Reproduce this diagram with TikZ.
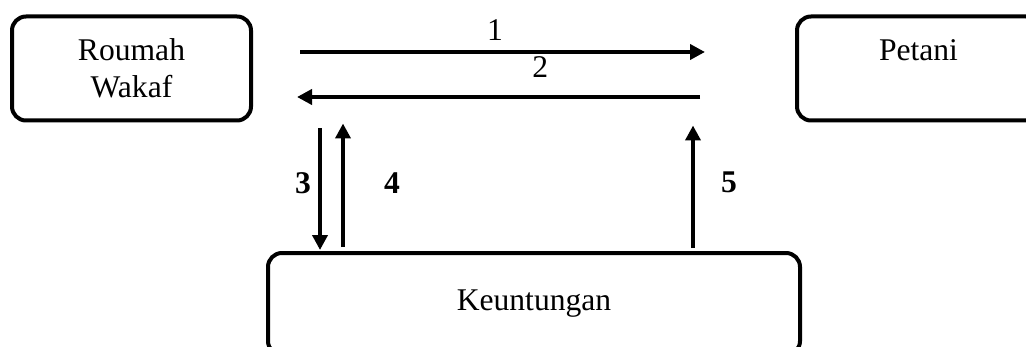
\documentclass[tikz,border=0pt]{standalone}
\usepackage{fontspec}
\setmainfont{Liberation Serif}
\usetikzlibrary{arrows.meta,calc}

\tikzset{
  box/.style={draw,line width=2pt,rounded corners=7pt,align=center,inner sep=0pt,outer sep=0pt,
    font=\fontsize{15.8}{18.5}\selectfont},
  flow/.style={line width=2pt,-{Triangle[length=7.5pt,width=7.5pt]}},
  lab/.style={font=\fontsize{15.8}{18.5}\selectfont,inner sep=1pt},
  num/.style={font=\fontsize{15.8}{18.5}\selectfont\bfseries,inner sep=1pt}
}

\begin{document}
\begin{tikzpicture}[x=0.5pt,y=-0.5pt]
  \useasboundingbox (0,0) rectangle (1026,347);
  \clip (0,0) rectangle (1026,347);
  % the three parties
  \node[box,minimum width=119.5pt,minimum height=52pt] (wakaf) at (131.5,68.5) {Roumah\\Wakaf};
  \node[box,minimum width=121.5pt,minimum height=52pt] (petani) at (918.5,68.5) {Petani\\\phantom{Wakaf}};
  \node[box,minimum width=266pt,minimum height=51pt] (untung) at (534,304) {Keuntungan};
  % horizontal flows
  \draw[flow,shorten <=24.5pt,shorten >=46pt] ([yshift=8.25pt]wakaf.east) -- node[lab,above=3.5pt,pos=.447]{1} ([yshift=8.25pt]petani.west);
  \draw[flow,shorten <=48.5pt,shorten >=23pt] ([yshift=-14.25pt]petani.west) -- node[lab,above=7.5pt,pos=.47]{2} ([yshift=-14.25pt]wakaf.east);
  % vertical flows
  \coordinate (k3) at ([xshift=26pt]untung.north west);
  \coordinate (k4) at ([xshift=37.5pt]untung.north west);
  \coordinate (k5) at ([xshift=212.5pt]untung.north west);
  \draw[flow,shorten <=4pt,shorten >=1.5pt] (k3 |- wakaf.south) -- node[num,left=2.5pt,pos=.47]{3} (k3);
  \draw[flow,shorten <=3pt,shorten >=1.5pt] (k4) -- node[num,right=18.5pt,pos=.53]{4} (k4 |- wakaf.south);
  \draw[flow,shorten <=2.5pt,shorten >=2.5pt] (k5) -- node[num,right=12pt,pos=.53]{5} (k5 |- petani.south);
\end{tikzpicture}
\end{document}
